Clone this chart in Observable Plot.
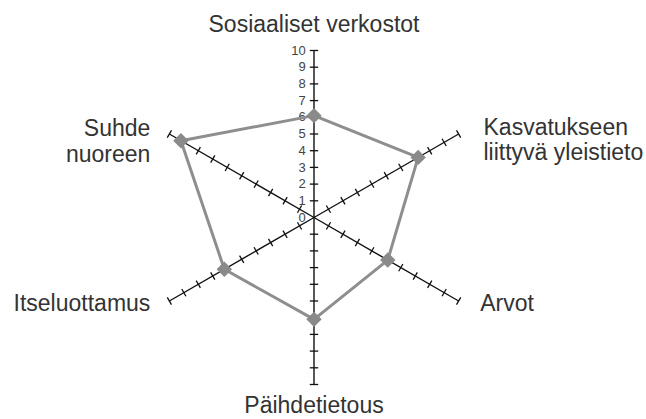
<!DOCTYPE html>
<html><head><meta charset="utf-8">
<script src="https://cdn.jsdelivr.net/npm/d3@7"></script>
<script src="https://cdn.jsdelivr.net/npm/@observablehq/plot@0.6"></script>
<style>body{margin:0;background:#fff}</style>
</head><body><div id="chart"></div>
<script>
// ---- data ----
const categories = ["Sosiaaliset verkostot", "Kasvatukseen\nliittyvä yleistieto", "Arvot", "Päihdetietous", "Itseluottamus", "Suhde\nnuoreen"];
const values = [6.1, 7.2, 5.1, 6.1, 6.2, 9.2];
const tickValues = [0, 1, 2, 3, 4, 5, 6, 7, 8, 9, 10];
const tickLabels = ["0", "1", "2", "3", "4", "5", "6", "7", "8", "9", "10"];

// ---- layout ----
const W = 646, H = 419, cx = 313.5, cy = 217, unit = 16.7;
const maxV = 10;
const angles = categories.map((_, i) => Math.PI / 2 - i * Math.PI / 3);
// label placement (data units relative to centre) and anchors
const labelX = [0, 10.15, 9.95, 0, -9.8, -9.8];
const labelY = [11.1, 3.45, -5.6, -11.72, -5.6, 3.35];
const labelAnchor = ["middle", "start", "start", "middle", "end", "end"];

const points = categories.map((c, i) => ({
  name: c, v: values[i],
  x: values[i] * Math.cos(angles[i]),
  y: values[i] * Math.sin(angles[i])
}));
const axes = angles.map(a => ({x1: 0, y1: 0, x2: maxV * Math.cos(a), y2: maxV * Math.sin(a)}));
const h = 4.2 / unit;
const ticks = [];
angles.forEach(a => {
  tickValues.filter(t => t > 0).forEach(t => {
    const px = t * Math.cos(a), py = t * Math.sin(a);
    const nx = -Math.sin(a), ny = Math.cos(a);
    ticks.push({x1: px - nx * h, y1: py - ny * h, x2: px + nx * h, y2: py + ny * h});
  });
});
const labels = categories.map((c, i) => ({text: c, x: labelX[i], y: labelY[i], anchor: labelAnchor[i]}));
const tickText = tickValues.map((t, i) => ({t, label: tickLabels[i]}));

const chart = Plot.plot({
  width: W, height: H,
  marginTop: 0, marginRight: 0, marginBottom: 0, marginLeft: 0,
  x: {domain: [-cx / unit, (W - cx) / unit], axis: null},
  y: {domain: [-(H - cy) / unit, cy / unit], axis: null},
  style: {fontFamily: "'Liberation Sans', Arial, Helvetica, sans-serif", background: "#fff"},
  marks: [
    Plot.link(axes, {x1: "x1", y1: "y1", x2: "x2", y2: "y2", stroke: "#111", strokeWidth: 1.4}),
    Plot.link(ticks, {x1: "x1", y1: "y1", x2: "x2", y2: "y2", stroke: "#111", strokeWidth: 1.3}),
    Plot.text(tickText, {x: -0.5, y: "t", text: "label", textAnchor: "end", fontSize: 13, fill: "#444"}),
    Plot.line(points, {x: "x", y: "y", curve: "linear-closed", stroke: "#8e8e8e", strokeWidth: 3}),
    Plot.dot(points, {x: "x", y: "y", symbol: "diamond2", r: 6, fill: "#8a8a8a", stroke: "#8a8a8a"}),
    ...["middle", "start", "end"].map(anc =>
      Plot.text(labels.filter(d => d.anchor === anc), {x: "x", y: "y", text: "text", textAnchor: anc, lineAnchor: "bottom", lineHeight: 1.1, fontSize: 23, fill: "#333"}))
  ]
});
document.getElementById("chart").append(chart);
</script>
</body></html>
